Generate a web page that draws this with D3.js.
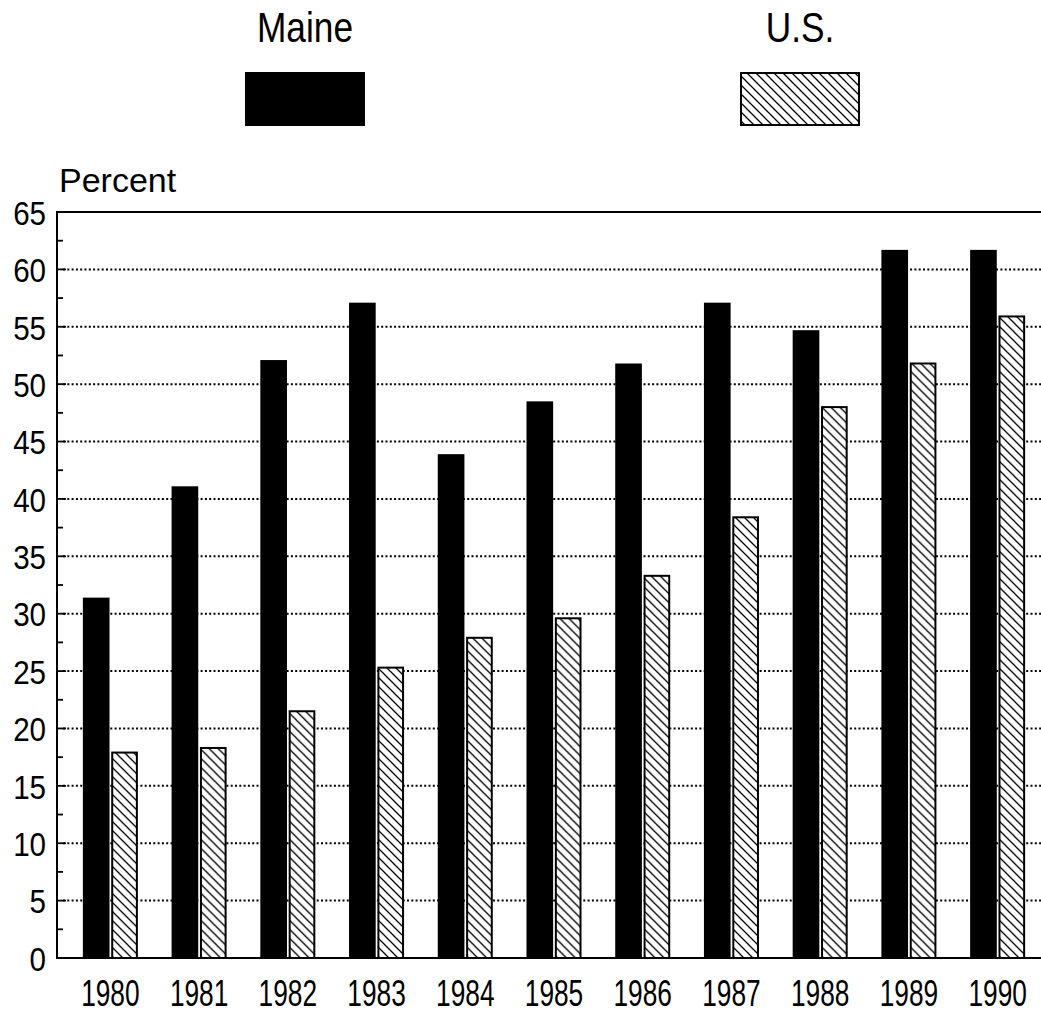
<!DOCTYPE html>
<html>
<head>
<meta charset="utf-8">
<script src="https://cdn.jsdelivr.net/npm/d3@7"></script>
<style>
  body { margin: 0; background: #fff; }
  .yTick text { font-family: "Liberation Sans", Arial, sans-serif; font-size: 34px; fill: #000; }
  .xTick text { font-family: "Liberation Sans", Arial, sans-serif; font-size: 36px; fill: #000; }
</style>
</head>
<body>
<div id="chart"></div>
<script>
// Bar chart: Maine vs U.S.

// Data
var years = ["1980", "1981", "1982", "1983", "1984", "1985", "1986", "1987", "1988", "1989", "1990"];
var maine = [31.4, 41.1, 52.1, 57.1, 43.9, 48.5, 51.8, 57.1, 54.7, 61.7, 61.7];
var us = [17.9, 18.3, 21.5, 25.3, 27.9, 29.6, 33.3, 38.4, 48.0, 51.8, 55.9];
var series = ["Maine", "U.S."];
var yTicks = [0, 5, 10, 15, 20, 25, 30, 35, 40, 45, 50, 55, 60, 65];

// Size
var width = 1041;
var height = 1015;
var axisX = 57;
var plotTop = 212;
var plotBottom = 958;

var svg = d3
  .select("#chart")
  .append("svg")
  .attr("width", width)
  .attr("height", height);

// Hatch pattern for U.S.
var defs = svg.append("defs");
defs
  .append("pattern")
  .attr("id", "hatch")
  .attr("patternUnits", "userSpaceOnUse")
  .attr("width", 9)
  .attr("height", 9)
  .append("path")
  .attr("d", "M0,0L9,9M-1,8L1,10M8,-1L10,1")
  .attr("stroke", "#000")
  .attr("stroke-width", 1.3);

// Scales
var yScale = d3.scaleLinear().domain([0, 65]).range([plotBottom, plotTop]);

var x0 = d3
  .scaleBand()
  .domain(years)
  .range([66, 1042])
  .paddingInner(0.38)
  .paddingOuter(0.19);

var x1 = d3
  .scaleBand()
  .domain(series)
  .range([0, x0.bandwidth()])
  .paddingInner(0.06);

// Gridlines (dotted)
svg
  .append("g")
  .selectAll("line")
  .data(yTicks.filter(function(d) { return d > 0 && d < 65; }))
  .enter()
  .append("line")
  .attr("x1", axisX + 6)
  .attr("x2", width)
  .attr("y1", function(d) { return yScale(d); })
  .attr("y2", function(d) { return yScale(d); })
  .attr("stroke", "#000")
  .attr("stroke-width", 2)
  .attr("stroke-dasharray", "2 2.3");

// Major + minor ticks inside
svg
  .append("g")
  .selectAll("line")
  .data(d3.range(2.5, 65, 2.5))
  .enter()
  .append("line")
  .attr("x1", axisX)
  .attr("x2", function(d) { return d % 5 === 0 ? axisX + 9 : axisX + 6; })
  .attr("y1", function(d) { return yScale(d); })
  .attr("y2", function(d) { return yScale(d); })
  .attr("stroke", "#000")
  .attr("stroke-width", 1.8);

// Bars
var groups = svg
  .append("g")
  .selectAll("g")
  .data(years)
  .enter()
  .append("g")
  .attr("transform", function(d) { return "translate(" + x0(d) + ",0)"; });

groups
  .append("rect")
  .attr("x", x1("Maine"))
  .attr("width", x1.bandwidth())
  .attr("y", function(d, i) { return yScale(maine[i]); })
  .attr("height", function(d, i) { return plotBottom - yScale(maine[i]); })
  .attr("fill", "#000");

groups
  .append("rect")
  .attr("x", x1("U.S.") + 1)
  .attr("width", x1.bandwidth() - 2)
  .attr("y", function(d, i) { return yScale(us[i]); })
  .attr("height", function(d, i) { return plotBottom - yScale(us[i]); })
  .attr("fill", "#fff")
  .attr("stroke", "none");

groups
  .append("rect")
  .attr("x", x1("U.S.") + 1)
  .attr("width", x1.bandwidth() - 2)
  .attr("y", function(d, i) { return yScale(us[i]); })
  .attr("height", function(d, i) { return plotBottom - yScale(us[i]); })
  .attr("fill", "url(#hatch)")
  .attr("stroke", "#000")
  .attr("stroke-width", 2);

// Frame lines: left axis, top, bottom
svg.append("line")
  .attr("x1", axisX).attr("x2", axisX)
  .attr("y1", plotTop).attr("y2", plotBottom + 1)
  .attr("stroke", "#000").attr("stroke-width", 2);
svg.append("line")
  .attr("x1", axisX - 1).attr("x2", width)
  .attr("y1", plotTop).attr("y2", plotTop)
  .attr("stroke", "#000").attr("stroke-width", 2);
svg.append("line")
  .attr("x1", axisX - 1).attr("x2", width)
  .attr("y1", plotBottom).attr("y2", plotBottom)
  .attr("stroke", "#000").attr("stroke-width", 2);

// Y axis labels (squeezed a little)
var yAxis = d3.axisLeft(yScale).tickValues(yTicks).tickSize(0).tickPadding(12.6);
svg
  .append("g")
  .attr("class", "yTick")
  .attr("transform", "translate(" + axisX + ",0)")
  .call(yAxis)
  .call(function(g) { g.select(".domain").remove(); })
  .selectAll("text")
  .attr("dy", "0.36em")
  .attr("transform", "scale(0.87,1)");

// X axis labels (narrow face: squeeze horizontally)
var xAxis = d3.axisBottom(x0).tickSize(0).tickPadding(22);
svg
  .append("g")
  .attr("class", "xTick")
  .attr("transform", "translate(0," + plotBottom + ")")
  .call(xAxis)
  .call(function(g) { g.select(".domain").remove(); })
  .selectAll("text")
  .attr("transform", "scale(0.73,1)");

svg.selectAll(".tick text").attr("font-family", null).attr("font-size", null);

// Percent label
svg
  .append("text")
  .attr("x", 59)
  .attr("y", 192)
  .style("font-family", "Liberation Sans, Arial, sans-serif")
  .style("font-size", "34px")
  .text("Percent");

// Legend
var legendX = [305, 800];
var legend = svg
  .append("g")
  .selectAll("g")
  .data(series)
  .enter()
  .append("g")
  .attr("transform", function(d, i) { return "translate(" + legendX[i] + ",0)"; });

legend
  .append("text")
  .attr("text-anchor", "middle")
  .attr("y", 42)
  .attr("transform", "scale(0.82,1)")
  .style("font-family", "Liberation Sans, Arial, sans-serif")
  .style("font-size", "43px")
  .text(function(d) { return d; });

legend
  .append("rect")
  .attr("x", -59)
  .attr("y", 73)
  .attr("width", 118)
  .attr("height", 52)
  .attr("fill", function(d) { return d === "Maine" ? "#000" : "url(#hatch)"; })
  .attr("stroke", "#000")
  .attr("stroke-width", 2);
</script>
</body>
</html>
